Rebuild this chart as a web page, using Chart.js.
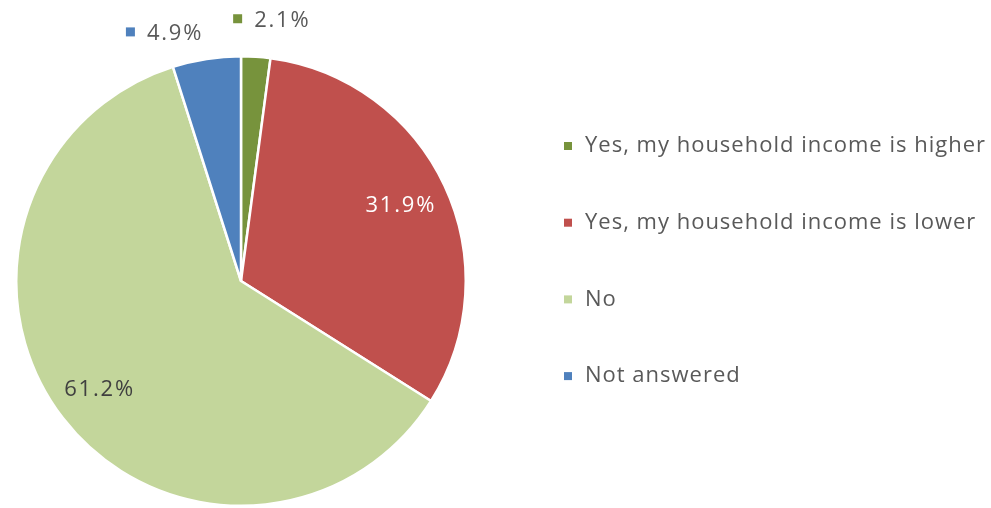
<!DOCTYPE html>
<html><head><meta charset="utf-8">
<script src="https://cdn.jsdelivr.net/npm/chart.js@4/dist/chart.umd.min.js"></script>
<style>html,body{margin:0;padding:0;background:#fff;overflow:hidden}</style>
</head><body>
<canvas id="c" width="991" height="508"></canvas>
<script>
const categories = ['Yes, my household income is higher', 'Yes, my household income is lower', 'No', 'Not answered'];
const shares = [2.1, 31.9, 61.2, 4.9];
const valueLabels = ['2.1%', '31.9%', '61.2%', '4.9%'];
const colors = ['#77933C', '#C0504D', '#C3D69B', '#4F81BD'];

const FONT = '"Open Sans", "Liberation Sans", sans-serif';

// label placement style: inside (fraction of radius) or outside (offset from arc edge)
const labelStyle = [
  {mode: 'out', dx: 16, dy: -36, color: '#595959'},
  {mode: 'in', frac: 0.785, color: '#FFFFFF'},
  {mode: 'in', frac: 0.795, color: '#404040'},
  {mode: 'out', dx: -42, dy: -25, color: '#595959'}
];

const labelsPlugin = {
  id: 'customLabels',
  afterDraw(chart) {
    const ctx = chart.ctx;
    const meta = chart.getDatasetMeta(0);
    ctx.save();
    ctx.font = '22px ' + FONT;
    ctx.letterSpacing = '1.8px';
    ctx.textBaseline = 'middle';
    meta.data.forEach((arc, i) => {
      const p = arc.getProps(['x', 'y', 'startAngle', 'endAngle', 'outerRadius'], true);
      const mid = (p.startAngle + p.endAngle) / 2;
      const st = labelStyle[i];
      const txt = valueLabels[i];
      const w = ctx.measureText(txt).width;
      if (st.mode === 'in') {
        const x = p.x + Math.cos(mid) * p.outerRadius * st.frac;
        const y = p.y + Math.sin(mid) * p.outerRadius * st.frac;
        ctx.fillStyle = st.color;
        ctx.textAlign = 'left';
        ctx.fillText(txt, x - w / 2, y);
      } else {
        const ex = p.x + Math.cos(mid) * p.outerRadius;
        const ey = p.y + Math.sin(mid) * p.outerRadius;
        const cx = ex + st.dx, cy = ey + st.dy;
        const sq = 9, gap = 12;
        const total = sq + gap + w;
        const left = cx - total / 2;
        ctx.fillStyle = colors[i];
        ctx.fillRect(left, cy - 2 - sq / 2, sq, sq);
        ctx.fillStyle = st.color;
        ctx.textAlign = 'left';
        ctx.fillText(txt, left + sq + gap, cy);
      }
    });
    // legend
    ctx.font = '22px ' + FONT;
    ctx.letterSpacing = '1px';
    const lx = 564, ly0 = 146, step = 76.7;
    categories.forEach((name, i) => {
      const y = ly0 + i * step;
      ctx.fillStyle = colors[i];
      ctx.fillRect(lx, y - 4, 8, 8);
      ctx.fillStyle = '#595959';
      ctx.textAlign = 'left';
      ctx.fillText(name, lx + 21, y);
    });
    ctx.restore();
  }
};

new Chart(document.getElementById('c'), {
  type: 'pie',
  data: {
    labels: categories,
    datasets: [{
      data: shares,
      backgroundColor: colors,
      borderColor: '#FFFFFF',
      borderWidth: 2.5
    }]
  },
  options: {
    responsive: false,
    animation: false,
    layout: {padding: {left: 15, top: 55, right: 524, bottom: 1}},
    plugins: {legend: {display: false}, tooltip: {enabled: false}}
  },
  plugins: [labelsPlugin]
});
</script>
</body></html>
